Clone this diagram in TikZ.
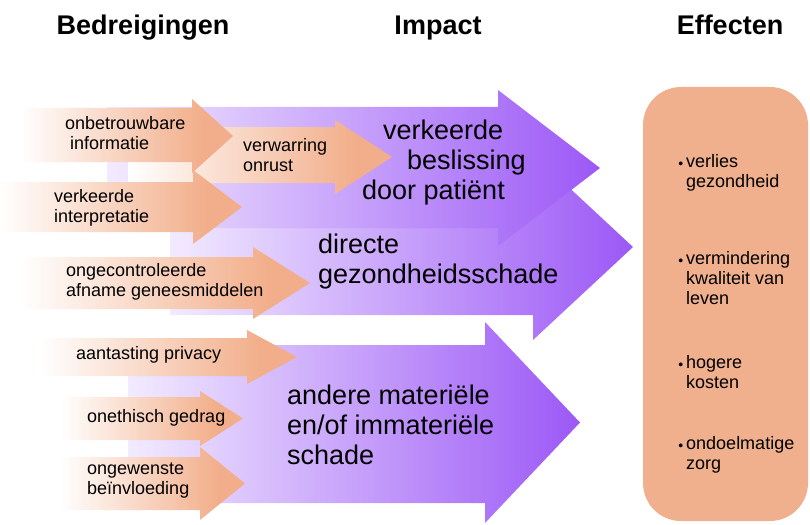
\documentclass[tikz,border=0pt]{standalone}
\usepackage{fontspec}
\setmainfont{Liberation Sans}
\usetikzlibrary{positioning}

\definecolor{orng}{RGB}{242,174,138}
\definecolor{effc}{RGB}{240,176,142}
\definecolor{purpL}{RGB}{242,235,255}
\definecolor{purpR}{RGB}{156,88,246}
\pgfdeclarehorizontalshading{orngfade}{100bp}{color(0bp)=(white); color(25bp)=(white); color(68bp)=(orng); color(100bp)=(orng)}

% fat arrow: style, left, head base, tip, body top, body bottom, head top, head bottom
\newcommand{\fatarrow}[8]{%
  \path[#1] (#2,#5) -- (#3,#5) -- (#3,#7) -- (#4,{(#7+#8)/2}) -- (#3,#8) -- (#3,#6) -- (#2,#6) -- cycle;}
\newcommand{\bul}{\llap{\raisebox{-1pt}{\fontsize{14}{14}\selectfont\textbullet}\hspace{3pt}}}

\begin{document}
\begin{tikzpicture}[x=1pt, y=-1pt,
    purp/.style={left color=purpL, right color=purpR},
    orngarrow/.style={shade, shading=orngfade},
    threat/.style={font=\fontsize{18}{20}\selectfont, align=left, inner sep=0pt, anchor=west},
    impact/.style={font=\fontsize{27}{30}\selectfont, align=left, inner sep=0pt, anchor=west},
    header/.style={font=\fontsize{27}{30}\selectfont\bfseries, inner sep=0pt, anchor=base},
    effpanel/.style={fill=effc, rounded corners=38pt, minimum width=165pt, minimum height=434pt, inner sep=0pt}
]
    \useasboundingbox (0,0) rectangle (810,524);

    % Headers
    \node[header] (hthreat) at (143,35) {Bedreigingen};
    \node[header] (himpact) at (438,35) {Impact};
    \node[header] (heffect) at (730,35) {Effecten};

    % Impact arrows
    \fatarrow{purp}{170}{533}{633}{180}{315}{154}{340}
    \fatarrow{purp}{107}{498}{600}{107}{228}{90}{246}
    \fatarrow{purp}{128}{485}{580}{345}{503}{322}{523}

    % Threat arrows
    \fatarrow{orngarrow}{128}{335}{392}{127}{183}{120}{194}
    \fatarrow{orngarrow}{20}{192}{233}{108}{162}{99}{173}
    \fatarrow{orngarrow}{0}{193}{242}{182}{232}{170}{244}
    \fatarrow{orngarrow}{20}{253}{310}{257}{309}{247}{319}
    \fatarrow{orngarrow}{40}{247}{297}{338}{376}{330}{384}
    \fatarrow{orngarrow}{60}{200}{243}{397}{440}{391}{446}
    \fatarrow{orngarrow}{60}{200}{245}{457}{510}{447}{520}

    % Threat labels
    \node[threat] (t1) at (65,133) {onbetrouwbare\\\hspace{5pt}informatie};
    \node[threat] (t2) at (243,155) {verwarring\\onrust};
    \node[threat] (t3) at (54,208) {verkeerde\\interpretatie};
    \node[threat] (t4) at (66,282) {ongecontroleerde\\afname geneesmiddelen};
    \node[threat] (t5) at (76,355) {aantasting privacy};
    \node[threat] (t6) at (87,418) {onethisch gedrag};
    \node[threat] (t7) at (87,481) {ongewenste\\beïnvloeding};

    % Impact labels
    \node[impact] (i1) at (362,163) {\hspace{21pt}verkeerde\\\hspace{45pt}beslissing\\door patiënt};
    \node[impact] (i2) at (318,262) {directe\\gezondheidsschade};
    \node[impact] (i3) at (287,425) {andere materiële\\en/of immateriële\\schade};

    % Effects
    \node[effpanel] (eff) at (725.5,304) {};
    \node[threat] (e1) at (686,173) {\bul verlies\\gezondheid};
    \node[threat] (e2) at (686,278) {\bul vermindering\\kwaliteit van\\leven};
    \node[threat] (e3) at (686,372) {\bul hogere\\kosten};
    \node[threat] (e4) at (686,455) {\bul ondoelmatige\\zorg};
\end{tikzpicture}
\end{document}
